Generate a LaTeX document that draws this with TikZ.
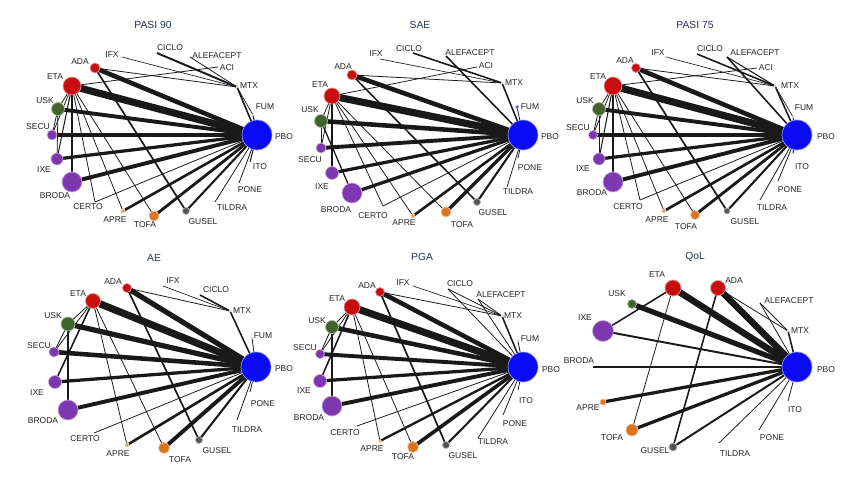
\documentclass[tikz,border=0pt]{standalone}
\usepackage{fontspec}
\setmainfont{Liberation Sans}

\definecolor{pboblue}{RGB}{10,10,245}
\definecolor{drugred}{RGB}{200,15,15}
\definecolor{uskgreen}{RGB}{65,100,45}
\definecolor{drugpurple}{RGB}{125,55,175}
\definecolor{tofaorange}{RGB}{220,115,30}
\definecolor{guselgray}{RGB}{85,85,85}
\definecolor{dottan}{RGB}{215,160,90}
\definecolor{titlecol}{RGB}{40,50,80}

\tikzset{
  drug/.style={circle, fill=#1, draw=#1!45!white, line width=0.7pt, inner sep=0pt},
  lbl/.style={font=\fontsize{8.5}{9}\selectfont, text=black!85, inner sep=0pt},
  ttl/.style={font=\fontsize{10.3}{11}\selectfont, text=titlecol, inner sep=0pt},
  link/.style={draw=black!90, line cap=butt}
}

\begin{document}
\begin{tikzpicture}[x=1pt, y=-1pt]
\useasboundingbox (0,0) rectangle (850,478);
\fill[white] (0,0) rectangle (850,478);

% ---------- PASI 90
\node[ttl] (ta) at (153,25) {PASI 90};
\foreach \n/\x/\y in {PBO/257/135, ETA/72/86, ADA/95/68, USK/58/109, SECU/52/135, IXE/57/159,
  BRODA/72/182, CERTO/95/202, APRE/123/211, TOFA/154/216, GUSEL/186/211, TILDRA/215/202,
  PONE/239/183, ITO/250/162, FUM/253/115, MTX/237/87, ACI/218/67, ALEFACEPT/190/57,
  CICLO/157/53, IFX/122/57}
  \coordinate (a\n) at (\x,\y);
\foreach \u/\v/\w in {ETA/PBO/5.5, ADA/PBO/3.5, USK/PBO/3, SECU/PBO/3.5, IXE/PBO/2.5,
  BRODA/PBO/3, CERTO/PBO/0.6, APRE/PBO/2, TOFA/PBO/2.2, GUSEL/PBO/1.6, TILDRA/PBO/0.6,
  PONE/PBO/0.6, ITO/PBO/0.8, FUM/PBO/0.8, MTX/PBO/1.2, MTX/FUM/0.5, CICLO/MTX/1.5,
  ALEFACEPT/MTX/0.6, IFX/MTX/0.5, ADA/MTX/0.6, ACI/ETA/0.6, ADA/GUSEL/1.3, ETA/USK/0.6,
  ETA/SECU/0.6, ETA/IXE/0.8, ETA/BRODA/1, ETA/CERTO/0.6, ETA/APRE/0.6, ETA/TOFA/0.6,
  USK/SECU/0.6, USK/IXE/0.6}
  \draw[link, line width={1.3*\w*1pt}] (a\u) -- (a\v);
\foreach \n/\c/\d in {PBO/pboblue/30, ETA/drugred/18, ADA/drugred/10, USK/uskgreen/13,
  SECU/drugpurple/10, IXE/drugpurple/12, BRODA/drugpurple/20, APRE/dottan/4,
  TOFA/tofaorange/10, GUSEL/guselgray/7, IFX/dottan/2, MTX/dottan/2, FUM/dottan/2}
  \node[drug=\c, minimum size=\d pt] (ab\n) at (a\n) {};
\foreach \n/\x/\y in {IFX/112/55, CICLO/170/48, ALEFACEPT/217/56, ACI/227/68, MTX/249/86,
  FUM/265/107, PBO/284/137, ITO/260/167, PONE/250/190, TILDRA/232/208, GUSEL/203/222,
  TOFA/145/225, APRE/115/220, CERTO/88/207, BRODA/55/196, IXE/44/170, SECU/38/127,
  USK/45/101, ETA/55/77, ADA/80/62}
  \node[lbl] (al\n) at (\x,\y) {\n};

% ---------- SAE
\node[ttl] (tb) at (420,25) {SAE};
\foreach \n/\x/\y in {PBO/523/135, ETA/332/96, ADA/352/75, USK/321/121, SECU/321/148,
  IXE/332/173, BRODA/352/193, CERTO/383/206, APRE/413/216, TOFA/446/212, GUSEL/477/202,
  TILDRA/507/187, PONE/518/158, FUM/517/107, MTX/502/83, ACI/477/67, ALEFACEPT/446/56,
  CICLO/413/53, IFX/380/59}
  \coordinate (b\n) at (\x,\y);
\foreach \u/\v/\w in {ETA/PBO/5.5, ADA/PBO/3.5, USK/PBO/3.5, SECU/PBO/3, IXE/PBO/2.5,
  BRODA/PBO/2.5, CERTO/PBO/0.6, APRE/PBO/2, TOFA/PBO/2.5, GUSEL/PBO/1.6, TILDRA/PBO/0.6,
  PONE/PBO/0.6, FUM/PBO/0.6, MTX/PBO/1.2, ALEFACEPT/PBO/1.2, CICLO/MTX/1.2, IFX/MTX/0.5,
  ADA/MTX/0.6, ACI/ETA/0.6, ADA/GUSEL/1.2, ETA/USK/0.6, ETA/SECU/0.6, ETA/IXE/1,
  ETA/CERTO/0.6, ETA/APRE/0.6, ETA/TOFA/0.6, USK/SECU/0.6, USK/BRODA/1}
  \draw[link, line width={1.3*\w*1pt}] (b\u) -- (b\v);
\foreach \n/\c/\d in {PBO/pboblue/30, ETA/drugred/16, ADA/drugred/10, USK/uskgreen/13,
  SECU/drugpurple/10, IXE/drugpurple/13, BRODA/drugpurple/20, APRE/dottan/4,
  TOFA/tofaorange/10, GUSEL/guselgray/7, MTX/dottan/2, FUM/pboblue/3}
  \node[drug=\c, minimum size=\d pt] (bb\n) at (b\n) {};
\foreach \n/\x/\y in {IFX/376/54, CICLO/409/49, ALEFACEPT/470/53, ACI/486/66, MTX/514/83,
  FUM/530/107, PBO/550/137, PONE/530/168, TILDRA/518/192, GUSEL/493/213, TOFA/462/225,
  APRE/404/223, CERTO/373/216, BRODA/336/210, IXE/322/187, SECU/310/160, USK/310/110,
  ETA/320/85, ADA/343/67}
  \node[lbl] (bl\n) at (\x,\y) {\n};

% ---------- PASI 75
\node[ttl] (tc) at (695,25) {PASI 75};
\foreach \n/\x/\y in {PBO/797/135, ETA/613/86, ADA/636/68, USK/599/109, SECU/593/135,
  IXE/599/159, BRODA/613/182, CERTO/640/200, APRE/664/211, TOFA/695/215, GUSEL/727/211,
  TILDRA/760/200, PONE/778/181, ITO/793/153, FUM/793/117, MTX/775/86, ACI/757/68,
  ALEFACEPT/727/57, CICLO/697/54, IFX/666/57}
  \coordinate (c\n) at (\x,\y);
\foreach \u/\v/\w in {ETA/PBO/5.5, ADA/PBO/3.5, USK/PBO/3, SECU/PBO/3.5, IXE/PBO/2.5,
  BRODA/PBO/3, CERTO/PBO/0.6, APRE/PBO/2, TOFA/PBO/2.2, GUSEL/PBO/1.6, TILDRA/PBO/0.6,
  PONE/PBO/0.6, ITO/PBO/0.8, FUM/PBO/0.8, MTX/PBO/1.2, MTX/FUM/0.5, CICLO/MTX/1.2,
  ALEFACEPT/MTX/0.8, ALEFACEPT/PBO/1.2, IFX/MTX/0.5, ADA/MTX/0.6, ACI/ETA/0.6,
  ADA/GUSEL/1.3, ETA/USK/0.6, ETA/SECU/0.6, ETA/IXE/0.8, ETA/BRODA/1, ETA/CERTO/0.6,
  ETA/APRE/0.6, ETA/TOFA/0.6, USK/SECU/0.6, USK/IXE/0.6}
  \draw[link, line width={1.3*\w*1pt}] (c\u) -- (c\v);
\foreach \n/\c/\d in {PBO/pboblue/30, ETA/drugred/18, ADA/drugred/9, USK/uskgreen/13,
  SECU/drugpurple/9, IXE/drugpurple/12, BRODA/drugpurple/20, APRE/dottan/4,
  TOFA/tofaorange/9, GUSEL/guselgray/6, IFX/dottan/2, MTX/dottan/2, FUM/dottan/2}
  \node[drug=\c, minimum size=\d pt] (cb\n) at (c\n) {};
\foreach \n/\x/\y in {IFX/658/53, CICLO/710/49, ALEFACEPT/755/53, ACI/766/68, MTX/790/86,
  FUM/804/108, PBO/826/137, ITO/802/167, PONE/790/190, TILDRA/772/208, GUSEL/745/222,
  TOFA/686/227, APRE/657/220, CERTO/628/207, BRODA/592/193, IXE/583/169, SECU/578/128,
  USK/585/101, ETA/598/77, ADA/625/61}
  \node[lbl] (cl\n) at (\x,\y) {\n};

% ---------- AE
\node[ttl] (td) at (154,258) {AE};
\foreach \n/\x/\y in {PBO/256/367, ETA/93/301, ADA/127/288, USK/68/324, SECU/54/352,
  IXE/55/382, BRODA/68/410, CERTO/94/433, APRE/127/445, TOFA/164/448, GUSEL/199/440,
  TILDRA/237/420, PONE/250/392, FUM/252/338, MTX/230/311, CICLO/200/295, IFX/163/286}
  \coordinate (d\n) at (\x,\y);
\foreach \u/\v/\w in {ETA/PBO/5.5, ADA/PBO/4, USK/PBO/4, SECU/PBO/3.5, IXE/PBO/2.5,
  BRODA/PBO/3, CERTO/PBO/0.6, APRE/PBO/2, TOFA/PBO/3, GUSEL/PBO/1.6, TILDRA/PBO/0.6,
  PONE/PBO/0.6, FUM/PBO/0.6, MTX/PBO/1.2, CICLO/MTX/1.2, IFX/MTX/0.5, ADA/MTX/0.6,
  ADA/GUSEL/1.3, ETA/USK/0.6, ETA/SECU/0.6, ETA/IXE/1.2, ETA/APRE/0.6, ETA/TOFA/0.6,
  USK/SECU/0.6, USK/BRODA/1}
  \draw[link, line width={1.3*\w*1pt}] (d\u) -- (d\v);
\foreach \n/\c/\d in {PBO/pboblue/30, ETA/drugred/15, ADA/drugred/9, USK/uskgreen/14,
  SECU/drugpurple/10, IXE/drugpurple/13, BRODA/drugpurple/20, APRE/dottan/4,
  TOFA/tofaorange/11, GUSEL/guselgray/7, MTX/dottan/2, FUM/dottan/2}
  \node[drug=\c, minimum size=\d pt] (db\n) at (d\n) {};
\foreach \n/\x/\y in {IFX/173/281, CICLO/216/290, MTX/242/311, FUM/263/336, PBO/284/369,
  PONE/263/404, TILDRA/247/430, GUSEL/217/451, TOFA/180/460, APRE/118/454, CERTO/85/439,
  BRODA/43/421, IXE/37/393, SECU/39/346, USK/53/316, ETA/78/294, ADA/113/282}
  \node[lbl] (dl\n) at (\x,\y) {\n};

% ---------- PGA
\node[ttl] (te) at (422,257) {PGA};
\foreach \n/\x/\y in {PBO/523/367, ETA/352/307, ADA/380/292, USK/332/327, SECU/320/354,
  IXE/320/381, BRODA/332/406, CERTO/357/426, APRE/380/441, TOFA/413/447, GUSEL/446/445,
  TILDRA/478/438, PONE/503/415, ITO/518/390, FUM/518/341, MTX/502/316, ALEFACEPT/478/299,
  CICLO/448/289, IFX/413/286}
  \coordinate (e\n) at (\x,\y);
\foreach \u/\v/\w in {ETA/PBO/5.5, ADA/PBO/3.5, USK/PBO/3.5, SECU/PBO/3, IXE/PBO/2.5,
  BRODA/PBO/3, CERTO/PBO/0.6, APRE/PBO/1.8, TOFA/PBO/2.8, GUSEL/PBO/1.6, TILDRA/PBO/0.6,
  PONE/PBO/0.6, ITO/PBO/0.6, FUM/PBO/0.6, MTX/PBO/1.2, CICLO/PBO/0.6, CICLO/MTX/0.6,
  ALEFACEPT/MTX/0.6, ALEFACEPT/PBO/0.6, IFX/MTX/0.5, ADA/MTX/0.6, ADA/GUSEL/1.3,
  ETA/USK/0.6, ETA/SECU/0.6, ETA/IXE/1.2, ETA/APRE/0.6, ETA/TOFA/0.6, USK/SECU/0.6,
  USK/BRODA/1}
  \draw[link, line width={1.3*\w*1pt}] (e\u) -- (e\v);
\foreach \n/\c/\d in {PBO/pboblue/30, ETA/drugred/16, ADA/drugred/9, USK/uskgreen/13,
  SECU/drugpurple/9, IXE/drugpurple/13, BRODA/drugpurple/20, APRE/dottan/3,
  TOFA/tofaorange/11, GUSEL/guselgray/7, IFX/dottan/2, MTX/dottan/2, FUM/dottan/2}
  \node[drug=\c, minimum size=\d pt] (eb\n) at (e\n) {};
\foreach \n/\x/\y in {IFX/403/283, CICLO/460/284, ALEFACEPT/501/295, MTX/513/316,
  FUM/530/339, PBO/551/370, ITO/526/401, PONE/515/424, TILDRA/493/442, GUSEL/463/456,
  TOFA/403/457, APRE/372/449, CERTO/345/433, BRODA/309/418, IXE/304/391, SECU/305/348,
  USK/317/321, ETA/337/299, ADA/367/286}
  \node[lbl] (el\n) at (\x,\y) {\n};

% ---------- QoL
\node[ttl] (tf) at (695,257) {QoL};
\foreach \n/\x/\y in {PBO/797/367, ETA/673/288, ADA/718/288, USK/632/304, IXE/603/331,
  BRODA/593/367, APRE/603/402, TOFA/632/430, GUSEL/673/447, TILDRA/719/443, PONE/759/430,
  ITO/788/401, MTX/788/331, ALEFACEPT/760/303}
  \coordinate (f\n) at (\x,\y);
\foreach \u/\v/\w in {ETA/PBO/5, ADA/PBO/5, USK/PBO/4, IXE/PBO/1.5, BRODA/PBO/1.5,
  APRE/PBO/2.5, TOFA/PBO/2.5, GUSEL/PBO/1.5, TILDRA/PBO/0.6, PONE/PBO/0.6, ITO/PBO/0.6,
  MTX/PBO/1.2, ALEFACEPT/MTX/0.6, ALEFACEPT/PBO/0.6, ADA/MTX/0.6, ETA/IXE/1.2,
  ETA/TOFA/0.6, ADA/GUSEL/1.2}
  \draw[link, line width={1.3*\w*1pt}] (f\u) -- (f\v);
\foreach \n/\c/\d in {PBO/pboblue/30, ETA/drugred/16, ADA/drugred/15, USK/uskgreen/9,
  IXE/drugpurple/21, APRE/tofaorange/6, TOFA/tofaorange/12, GUSEL/guselgray/8,
  MTX/dottan/2}
  \node[drug=\c, minimum size=\d pt] (fb\n) at (f\n) {};
\foreach \n/\x/\y in {ETA/657/275, ADA/734/281, USK/617/294, IXE/585/318, BRODA/579/361,
  APRE/588/408, TOFA/612/438, GUSEL/655/451, TILDRA/735/454, PONE/772/438, ITO/795/410,
  MTX/800/331, ALEFACEPT/789/301, PBO/826/370}
  \node[lbl] (fl\n) at (\x,\y) {\n};
\end{tikzpicture}
\end{document}
